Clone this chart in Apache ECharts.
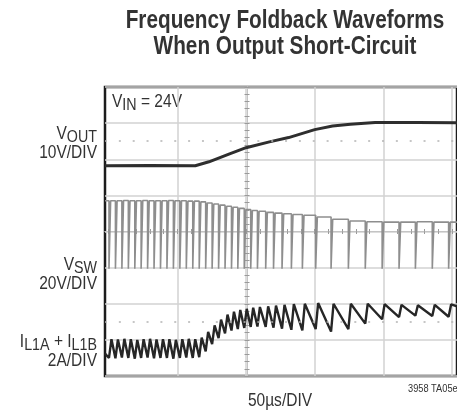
<!DOCTYPE html>
<html>
<head>
<meta charset="utf-8">
<script src="https://cdn.jsdelivr.net/npm/echarts@6/dist/echarts.min.js"></script>
<style>
  html, body { margin: 0; padding: 0; background: #ffffff; }
  #chart { width: 457px; height: 411px; }
</style>
</head>
<body>
<div id="chart"></div>
<script>
// Time base: 50 µs per division; vertical scale in screen divisions (8 divisions tall).
const timeGrid = [50, 100, 150, 200, 250];           // major vertical graticule lines (µs)
const voltDivs = [0, 1, 2, 3, 4, 5, 6, 7, 8];         // horizontal graticule lines (div)

// VOUT (10V/DIV), trace position in divisions
const voutT   = [-2.7, 30, 63, 73, 88, 100, 117, 131, 150, 163, 176, 194, 225, 253.6];
const voutDiv = [5.82, 5.83, 5.82, 5.93, 6.15, 6.32, 6.48, 6.6, 6.82, 6.92, 6.97, 7.02, 7.02, 7.01];

// Switch node: falling-edge time of every low pulse (µs)
const swPulseT = [0.2, 4.9, 9.6, 14.3, 19.0, 23.6, 28.3, 33.0, 37.7, 42.4, 47.1, 51.8, 56.5, 61.2,
                  65.9, 70.6, 75.3, 80.0, 84.7, 89.4, 94.0, 98.7, 103.4, 108.3, 114.3, 120.0, 126.2,
                  133.0, 141.0, 150.7, 161.9, 174.5, 186.8, 199.1, 211.4, 223.3, 235.6, 247.5];
// VSW (20V/DIV) high level following each pulse, in divisions
const swHigh = [4.85, 4.85, 4.86, 4.85, 4.85, 4.86, 4.85, 4.85, 4.85, 4.86, 4.85, 4.85, 4.84, 4.84,
                4.82, 4.79, 4.76, 4.73, 4.70, 4.67, 4.64, 4.61, 4.58, 4.56, 4.53, 4.51, 4.49,
                4.47, 4.45, 4.40, 4.34, 4.29, 4.27, 4.26, 4.26, 4.27, 4.26, 4.26];
const swLow = 2.97;
const onTime = 1.2;   // µs the switch node stays low

// Inductor current (2A/DIV): valley before and peak after each switching pulse, in divisions
const ilValley = [0.50, 0.49, 0.51, 0.50, 0.48, 0.50, 0.51, 0.49, 0.50, 0.50, 0.48, 0.50, 0.51, 0.50,
                  0.52, 0.68, 0.88, 1.05, 1.18, 1.26, 1.30, 1.33, 1.36, 1.37, 1.36, 1.34, 1.31,
                  1.28, 1.26, 1.30, 1.23, 1.30, 1.45, 1.57, 1.63, 1.67, 1.66, 1.64];
const ilPeak   = [1.02, 1.01, 1.03, 1.02, 1.00, 1.02, 1.03, 1.01, 1.02, 1.02, 1.00, 1.02, 1.03, 1.02,
                  1.06, 1.22, 1.40, 1.56, 1.70, 1.78, 1.83, 1.86, 1.89, 1.91, 1.93, 1.95, 1.97,
                  1.99, 2.00, 2.02, 2.00, 2.00, 2.00, 1.99, 1.97, 1.96, 1.97, 1.98];
const ilStart = 0.62, ilEnd = 1.93;

const T_MIN = -2.7, T_MAX = 253.6;
const FONT = "'Liberation Sans', Arial, Helvetica, sans-serif";
const NARROW = 0.84;   // horizontal squeeze giving a condensed face
const INK = '#333333';

function swTrace() {
  const pts = [[T_MIN, swHigh[0]]];
  let prev = swHigh[0];
  swPulseT.forEach((t, i) => {
    pts.push([t, prev], [t, swLow], [t + onTime, swLow], [t + onTime, swHigh[i]]);
    prev = swHigh[i];
  });
  pts.push([T_MAX, prev]);
  return pts;
}

function ilTrace() {
  const pts = [[T_MIN, ilStart]];
  swPulseT.forEach((t, i) => {
    pts.push([t, ilValley[i]], [t + onTime + 0.6, ilPeak[i]]);
  });
  pts.push([T_MAX, ilEnd]);
  return pts;
}

// 1/5-division tick marks along the centre graticule lines
const minorTimeTicks = [];
for (let t = 0; t <= 250; t += 10) minorTimeTicks.push(t);

const chart = echarts.init(document.getElementById('chart'), null, { renderer: 'canvas' });

const centreX = (inside) => ({
  type: 'value', min: T_MIN, max: T_MAX, position: 'bottom', offset: -144.5,
  axisLine: { show: true, onZero: false, lineStyle: { color: '#c4c4c4', width: 1 } },
  axisTick: { show: true, inside: inside, length: 2.5, customValues: minorTimeTicks,
              lineStyle: { color: '#9a9a9a', width: 1 } },
  axisLabel: { show: false }, splitLine: { show: false }
});
const centreY = (inside) => ({
  type: 'value', min: 0, max: 8, interval: 1, position: 'left', offset: -142,
  axisLine: { show: true, onZero: false, lineStyle: { color: '#c4c4c4', width: 1 } },
  axisTick: { show: true, inside: inside, length: 2.5, lineStyle: { color: '#9a9a9a' } },
  minorTick: { show: true, splitNumber: 5, length: 2.5, lineStyle: { color: '#9a9a9a' } },
  axisLabel: { show: false }, splitLine: { show: false }
});

const main = { fontFamily: FONT, fontSize: 18.5, color: INK, lineHeight: 18, verticalAlign: 'top' };
const sub  = { fontFamily: FONT, fontSize: 17, color: INK, lineHeight: 17, padding: [5, 0, 0, 0], verticalAlign: 'top' };

function label(x, y, text, align, opts, sx) {
  return { type: 'text', x: x, y: y, scaleX: sx || NARROW, scaleY: 1,
    style: Object.assign({ text: text, align: align, fill: INK, font: '18.5px ' + FONT,
                           rich: { a: main, s: sub } }, opts || {}) };
}

chart.setOption({
  animation: false,
  backgroundColor: '#ffffff',
  grid: { left: 105, right: -3, top: 87, bottom: 35, show: true,
          borderColor: '#1c1c1c', borderWidth: 2.5, backgroundColor: 'transparent' },
  xAxis: [
    { type: 'value', min: T_MIN, max: T_MAX,
      axisLine: { show: false }, axisLabel: { show: false },
      axisTick: { show: false, customValues: timeGrid },
      splitLine: { show: true, lineStyle: { color: '#d2d2d2', width: 1.5 } } },
    centreX(true), centreX(false)
  ],
  yAxis: [
    { type: 'value', min: voltDivs[0], max: voltDivs[voltDivs.length - 1], interval: 1,
      axisLine: { show: false }, axisLabel: { show: false }, axisTick: { show: false },
      splitLine: { show: true, lineStyle: { color: '#d2d2d2', width: 1.5 } } },
    centreY(true), centreY(false)
  ],
  series: [
    { name: 'VSW', type: 'line', showSymbol: false, silent: true,
      data: swTrace(),
      lineStyle: { color: '#8e8e8e', width: 1.6 } },
    { name: 'IL', type: 'line', showSymbol: false, silent: true,
      data: ilTrace(),
      lineStyle: { color: '#262626', width: 2.4 } },
    { name: 'VOUT', type: 'line', showSymbol: false, silent: true,
      data: voutT.map((t, i) => [t, voutDiv[i]]),
      lineStyle: { color: '#2e2e2e', width: 3 },
      markLine: { silent: true, symbol: 'none', label: { show: false },
                  lineStyle: { color: '#b4b4b4', width: 1.5, type: [2, 11.85] },
                  data: [{ yAxis: 6.5 }, { yAxis: 1.5 }] } }
  ],
  graphic: [
    label(285, 8, 'Frequency Foldback Waveforms\nWhen Output Short-Circuit', 'center',
          { font: 'bold 25px ' + FONT, lineHeight: 26, rich: null }, 0.83),
    label(112, 92, '{a|V}{s|IN}{a| = 24V}', 'left'),
    label(97, 124, '{a|V}{s|OUT}', 'right'),
    label(97, 143, '10V/DIV', 'right', { rich: null }),
    label(97, 255, '{a|V}{s|SW}', 'right'),
    label(97, 274, '20V/DIV', 'right', { rich: null }),
    label(97, 332, '{a|I}{s|L1A}{a| + I}{s|L1B}', 'right'),
    label(97, 351, '2A/DIV', 'right', { rich: null }),
    label(280, 391, '50µs/DIV', 'center', { rich: null }),
    label(408, 383, '3958 TA05e', 'left', { font: '11px ' + FONT, rich: null })
  ]
});
</script>
</body>
</html>
